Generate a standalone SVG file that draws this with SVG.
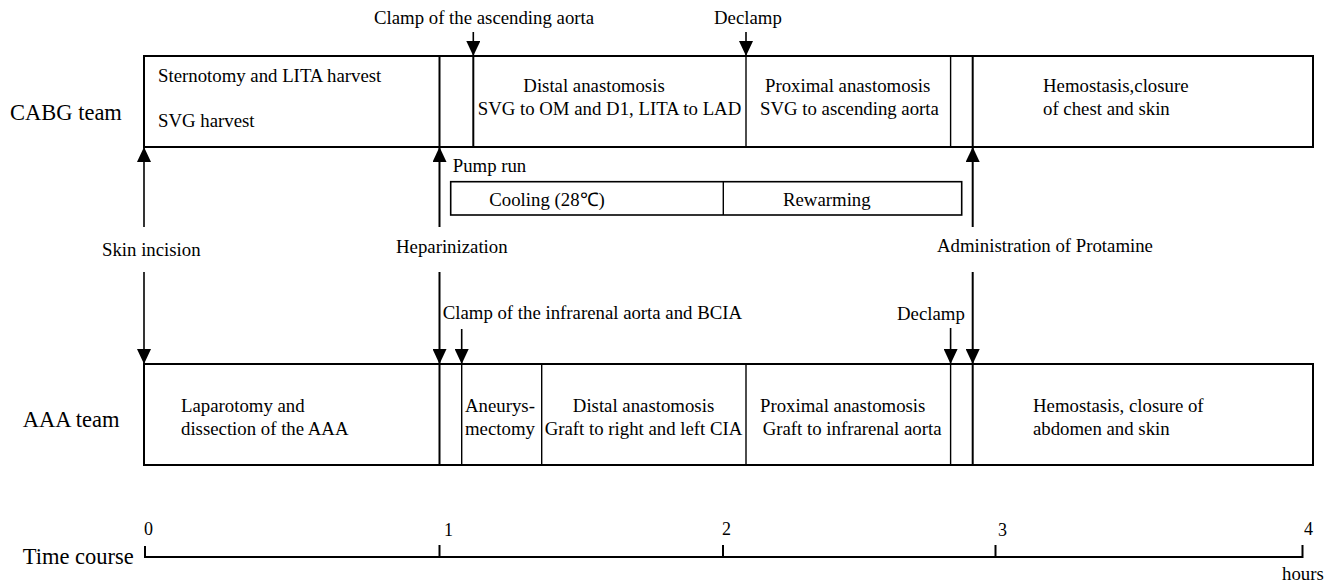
<svg xmlns="http://www.w3.org/2000/svg" width="1336" height="583" viewBox="0 0 1336 583">
<style>
text{font-family:"Liberation Serif","Times New Roman",serif;font-size:18.8px;fill:#000}
.lbl{font-size:22.5px}
.num{font-size:18px}
.box{fill:#fff;stroke:#000;stroke-width:2}
.div{stroke:#000;stroke-width:1.4;fill:none}
.divb{stroke:#000;stroke-width:2;fill:none}
.arr{stroke:#000;stroke-width:1.6;fill:none}
.arrb{stroke:#000;stroke-width:2;fill:none}
.mid{text-anchor:middle}
</style>
<defs>
<marker id="ah" markerUnits="userSpaceOnUse" markerWidth="15" markerHeight="14" refX="15" refY="7" orient="auto" viewBox="0 0 15 14">
<path d="M0,0 L15,7 L0,14 Z" fill="#000"/>
</marker>
</defs>
<rect width="1336" height="583" fill="#fff"/>

<g id="cabg-team-label"><text class="lbl" x="10" y="119.5">CABG team</text></g>
<g id="aaa-team-label"><text class="lbl" x="22.7" y="427">AAA team</text></g>

<g id="cabg-row">
<rect class="box" x="144" y="56" width="1169" height="91"/>
<line class="divb" x1="439.5" y1="56" x2="439.5" y2="147"/>
<line class="divb" x1="473.3" y1="56" x2="473.3" y2="147"/>
<line class="div" x1="746" y1="56" x2="746" y2="147"/>
<line class="div" x1="950.6" y1="56" x2="950.6" y2="147"/>
<line class="divb" x1="972.7" y1="56" x2="972.7" y2="147"/>
<text x="158" y="81.5">Sternotomy and LITA harvest</text>
<text x="158" y="126.5">SVG harvest</text>
<text class="mid" x="594" y="92">Distal anastomosis</text>
<text class="mid" x="609.5" y="114.5">SVG to OM and D1, LITA to LAD</text>
<text x="765" y="92">Proximal anastomosis</text>
<text x="760" y="114.5">SVG to ascending aorta</text>
<text x="1043" y="92">Hemostasis,closure</text>
<text x="1043" y="114.5">of chest and skin</text>
</g>

<g id="pump-run">
<text x="452.7" y="172">Pump run</text>
<rect class="box" x="450.7" y="181.7" width="511" height="33.3" style="stroke-width:1.6"/>
<line class="div" x1="723.3" y1="181.7" x2="723.3" y2="215"/>
<text x="489.3" y="206">Cooling (28℃)</text>
<text x="783" y="206">Rewarming</text>
</g>

<g id="aaa-row">
<rect class="box" x="144" y="364" width="1169" height="101"/>
<line class="divb" x1="439.5" y1="364" x2="439.5" y2="465"/>
<line class="div" x1="461.7" y1="364" x2="461.7" y2="465"/>
<line class="div" x1="541.7" y1="364" x2="541.7" y2="465"/>
<line class="div" x1="746" y1="364" x2="746" y2="465"/>
<line class="div" x1="950.6" y1="364" x2="950.6" y2="465"/>
<line class="divb" x1="972.7" y1="364" x2="972.7" y2="465"/>
<text x="181" y="412">Laparotomy and</text>
<text x="181" y="434.5">dissection of the AAA</text>
<text x="465" y="412">Aneurys-</text>
<text x="465" y="434.5">mectomy</text>
<text class="mid" x="643.5" y="412">Distal anastomosis</text>
<text class="mid" x="643.5" y="434.5">Graft to right and left CIA</text>
<text x="760" y="412">Proximal anastomosis</text>
<text x="762.7" y="434.5">Graft to infrarenal aorta</text>
<text x="1033" y="412">Hemostasis, closure of</text>
<text x="1033" y="434.5">abdomen and skin</text>
</g>

<g id="event-labels">
<text x="374" y="23.5">Clamp of the ascending aorta</text>
<text x="714" y="23.5">Declamp</text>
<text x="102" y="256">Skin incision</text>
<text x="396" y="253">Heparinization</text>
<text x="937" y="252">Administration of Protamine</text>
<text x="442.7" y="318.5">Clamp of the infrarenal aorta and BCIA</text>
<text x="897" y="320">Declamp</text>
</g>

<g id="connectors">
<line class="arr" x1="473.3" y1="32" x2="473.3" y2="56" marker-end="url(#ah)"/>
<line class="arr" x1="746" y1="32" x2="746" y2="56" marker-end="url(#ah)"/>
<line class="arr" x1="144" y1="227" x2="144" y2="147" marker-end="url(#ah)"/>
<line class="arrb" x1="439.5" y1="227" x2="439.5" y2="147" marker-end="url(#ah)"/>
<line class="arrb" x1="972.7" y1="227" x2="972.7" y2="147" marker-end="url(#ah)"/>
<line class="arr" x1="144" y1="272" x2="144" y2="364" marker-end="url(#ah)"/>
<line class="arrb" x1="439.5" y1="272" x2="439.5" y2="364" marker-end="url(#ah)"/>
<line class="arrb" x1="972.7" y1="272" x2="972.7" y2="364" marker-end="url(#ah)"/>
<line class="arr" x1="461.7" y1="329" x2="461.7" y2="364" marker-end="url(#ah)"/>
<line class="arr" x1="950.6" y1="328" x2="950.6" y2="364" marker-end="url(#ah)"/>
</g>

<g id="time-axis">
<text class="lbl" x="22.7" y="564">Time course</text>
<polyline class="divb" points="145,546 145,557 1302.5,557 1302.5,545"/>
<line class="divb" x1="439.5" y1="545" x2="439.5" y2="557"/>
<line class="divb" x1="723" y1="545" x2="723" y2="557"/>
<line class="divb" x1="995.5" y1="545" x2="995.5" y2="557"/>
<text class="num" x="144" y="535">0</text>
<text class="num" x="444" y="536">1</text>
<text class="num" x="722" y="535">2</text>
<text class="num" x="998" y="536">3</text>
<text class="num" x="1304" y="535">4</text>
<text x="1282" y="580">hours</text>
</g>
</svg>
